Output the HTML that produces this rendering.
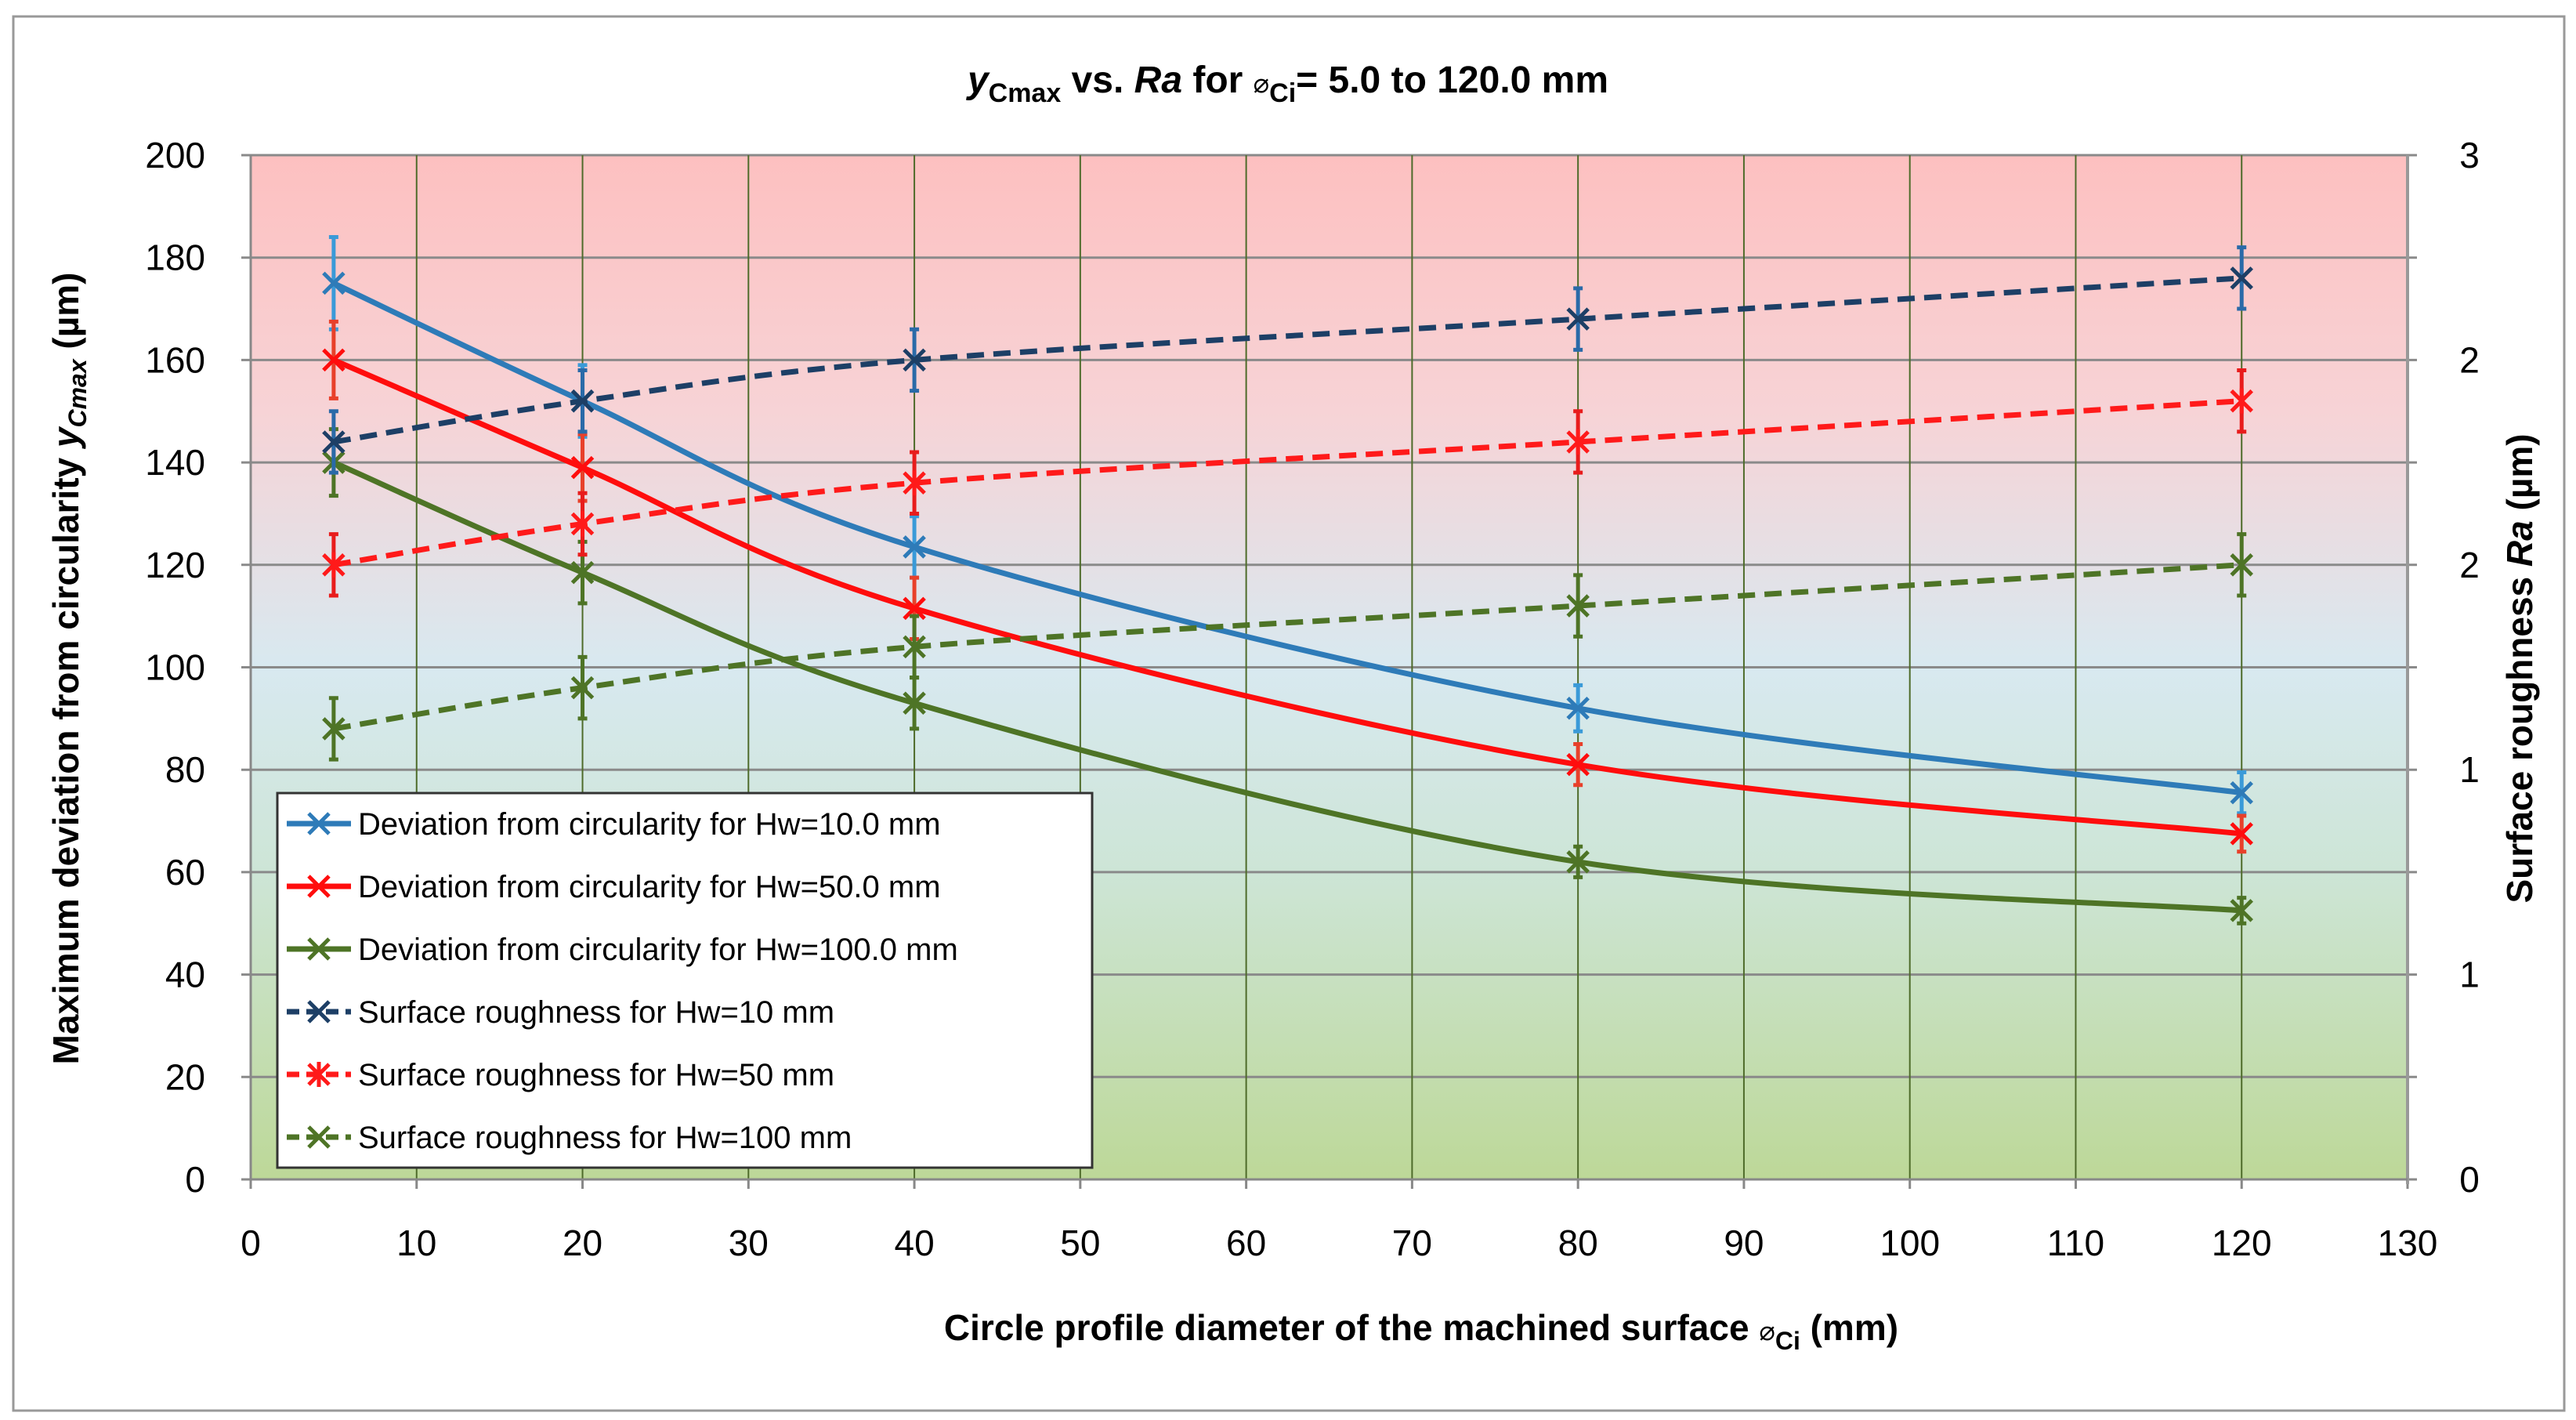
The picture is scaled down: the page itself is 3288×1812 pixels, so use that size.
<!DOCTYPE html>
<html><head><meta charset="utf-8"><style>
html,body{margin:0;padding:0;background:#fff;}
svg{display:block;font-family:"Liberation Sans",sans-serif;}
</style></head><body>
<svg id="chart" width="3288" height="1812" viewBox="0 0 3288 1812" xmlns="http://www.w3.org/2000/svg">
<defs>
<linearGradient id="bg" x1="0" y1="0" x2="0" y2="1">
<stop offset="0" stop-color="#fdc0c0"/>
<stop offset="0.25" stop-color="#f7d3d6"/>
<stop offset="0.5" stop-color="#d8e9f0"/>
<stop offset="0.7" stop-color="#cde5d6"/>
<stop offset="1" stop-color="#bdd898"/>
</linearGradient>
</defs>
<rect x="17" y="21" width="3256" height="1779" fill="#fff" stroke="#999" stroke-width="3"/>
<rect id="plotbg" fill="url(#bg)"/>
<g id="grid"></g>
<g id="series"></g>
<g id="axes"></g>
<text x="1644" y="118" text-anchor="middle" font-size="48" font-weight="bold"><tspan font-style="italic">y</tspan><tspan font-size="34" dy="12">Cmax</tspan><tspan dy="-12"> vs. </tspan><tspan font-style="italic">Ra</tspan><tspan> for </tspan><tspan font-size="34" font-weight="normal">⌀</tspan><tspan font-size="34" dy="12">Ci</tspan><tspan dy="-12">= 5.0 to 120.0 mm</tspan></text>
<text transform="translate(100,853) rotate(-90)" text-anchor="middle" font-size="46" font-weight="bold">Maximum deviation from circularity <tspan font-style="italic">y</tspan><tspan font-style="italic" font-size="32" dy="10">Cmax</tspan><tspan dy="-10"> (µm)</tspan></text>
<text transform="translate(3232,853) rotate(-90)" text-anchor="middle" font-size="46" font-weight="bold">Surface roughness <tspan font-style="italic">Ra</tspan> (µm)</text>
<text x="1814" y="1710" text-anchor="middle" font-size="46" font-weight="bold">Circle profile diameter of the machined surface <tspan font-size="34" font-weight="normal">⌀</tspan><tspan font-size="32" dy="12">Ci</tspan><tspan dy="-12"> (mm)</tspan></text>
<g id="legend"></g>
</svg>
<script>
const xValues=[5,20,40,80,120];
const devHw10=[175,152,123.5,92,75.5];
const devHw50=[160,139,111.5,81,67.5];
const devHw100=[140,118.5,93,62,52.5];
const errHw10=[9,7,6,4.5,4];
const errHw50=[7.5,6.5,6,4,3.5];
const errHw100=[6.5,6,5,3,2.5];
const raHw10=[2.16,2.28,2.4,2.52,2.64];
const raHw50=[1.8,1.92,2.04,2.16,2.28];
const raHw100=[1.32,1.44,1.56,1.68,1.8];
const raErr=[0.09,0.09,0.09,0.09,0.09];
const xTicks=[0,10,20,30,40,50,60,70,80,90,100,110,120,130];
const yTicks=[0,20,40,60,80,100,120,140,160,180,200];
const y2Ticks=[0,0.6,1.2,1.8,2.4,3];
const y2Labels=["0","1","1","2","2","3"];
const legendLabels=["Deviation from circularity for Hw=10.0 mm","Deviation from circularity for Hw=50.0 mm","Deviation from circularity for Hw=100.0 mm","Surface roughness for Hw=10 mm","Surface roughness for Hw=50 mm","Surface roughness for Hw=100 mm"];

const L=320,R=3073,T=198,B=1505;
const NS="http://www.w3.org/2000/svg";
const sx=v=>L+(v-0)/(130-0)*(R-L);
const sy=v=>B-(v-0)/(200-0)*(B-T);
const sy2=v=>B-(v-0)/(3-0)*(B-T);
function mk(tag,attrs,parent){const e=document.createElementNS(NS,tag);for(const k in attrs)e.setAttribute(k,attrs[k]);parent.appendChild(e);return e;}
const bg=document.getElementById('plotbg');
bg.setAttribute('x',L);bg.setAttribute('y',T);bg.setAttribute('width',R-L);bg.setAttribute('height',B-T);
const grid=document.getElementById('grid'),axes=document.getElementById('axes'),ser=document.getElementById('series'),leg=document.getElementById('legend');
yTicks.forEach(v=>{
 const l=mk('line',{x1:L-12,x2:R+12,y1:sy(v),y2:sy(v),stroke:'#8a8a8a','stroke-width':3},grid);
 
 
 const t=mk('text',{x:262,y:sy(v)+16,'text-anchor':'end','font-size':46},axes);
 t.textContent=v;
 
 
});
xTicks.forEach(v=>{
 if(v>0&&v<130){const l=mk('line',{x1:sx(v),x2:sx(v),y1:T,y2:B,stroke:'#4e6b2a','stroke-width':2},grid);
 
 }
 mk('line',{x1:sx(v),x2:sx(v),y1:B,y2:B+12,stroke:'#888','stroke-width':3},axes);
 const t=mk('text',{x:sx(v),y:1602,'text-anchor':'middle','font-size':46},axes);
 t.textContent=v;
 
 
});
y2Ticks.forEach((v,i)=>{
 const t=mk('text',{x:3152,y:sy2(v)+16,'text-anchor':'middle','font-size':46},axes);
 t.textContent=y2Labels[i];
 
 
});
mk('line',{x1:L,x2:L,y1:T,y2:B,stroke:'#888','stroke-width':3},axes);
mk('line',{x1:R,x2:R,y1:T,y2:B+6,stroke:'#999','stroke-width':4},axes);
mk('line',{x1:L,x2:R,y1:B,y2:B,stroke:'#888','stroke-width':3},axes);

function smooth(pts){let d=`M${pts[0][0]},${pts[0][1]}`;
 for(let i=0;i<pts.length-1;i++){const p0=pts[i-1]||pts[i],p1=pts[i],p2=pts[i+1],p3=pts[i+2]||p2;
 const c1=[p1[0]+(p2[0]-p0[0])/6,p1[1]+(p2[1]-p0[1])/6],c2=[p2[0]-(p3[0]-p1[0])/6,p2[1]-(p3[1]-p1[1])/6];
 d+=` C${c1[0]},${c1[1]} ${c2[0]},${c2[1]} ${p2[0]},${p2[1]}`;}return d;}
function marker(g,x,y,c,star){const s=13;
 mk('path',{d:`M${x-s},${y-s}L${x+s},${y+s}M${x-s},${y+s}L${x+s},${y-s}`+(star?`M${x},${y-s-3}L${x},${y+s+3}`:''),stroke:c,'stroke-width':5,fill:'none'},g);}
function series(name,vals,errs,scale,color,errColor,dashed,star){
 const g=mk('g',{},ser);
 
 
 const pts=xValues.map((x,i)=>[sx(x),scale(vals[i])]);
 xValues.forEach((x,i)=>{const X=sx(x),y1=scale(vals[i]+errs[i]),y2=scale(vals[i]-errs[i]);
  mk('path',{d:`M${X},${y1}L${X},${y2}M${X-6},${y1}L${X+6},${y1}M${X-6},${y2}L${X+6},${y2}`,stroke:errColor,'stroke-width':5,fill:'none'},g);});
 const p=mk('path',{d:smooth(pts),stroke:color,'stroke-width':7,fill:'none'},g);
 if(dashed)p.setAttribute('stroke-dasharray','22 12');
 pts.forEach(q=>marker(g,q[0],q[1],color,star));
}
series('deviation-hw10',devHw10,errHw10,sy,'#2e7bb8','#3a9ad8',false,false);
series('deviation-hw50',devHw50,errHw50,sy,'#ff0d0d','#e8402a',false,false);
series('deviation-hw100',devHw100,errHw100,sy,'#4e7426','#4e7426',false,false);
series('roughness-hw10',raHw10,raErr,sy2,'#1d3f66','#2a6aa8',true,false);
series('roughness-hw50',raHw50,raErr,sy2,'#ff1a1a','#e81c1c',true,true);
series('roughness-hw100',raHw100,raErr,sy2,'#4e7426','#4e7426',true,false);

const lb=mk('rect',{x:354,y:1012,width:1040,height:478,fill:'#fff',stroke:'#333','stroke-width':3},leg);


const lc=['#2e7bb8','#ff0d0d','#4e7426','#1d3f66','#ff1a1a','#4e7426'];
legendLabels.forEach((s,i)=>{const y=1051+i*80;
 const g=mk('g',{},leg);
 
 
 const l=mk('line',{x1:366,x2:448,y1:y,y2:y,stroke:lc[i],'stroke-width':7},g);
 if(i>=3)l.setAttribute('stroke-dasharray','16 9');
 marker(g,407,y,lc[i],i===4);
 const t=mk('text',{x:457,y:y+14,'font-size':40},g);
 t.textContent=s;
});
</script>
</body></html>
